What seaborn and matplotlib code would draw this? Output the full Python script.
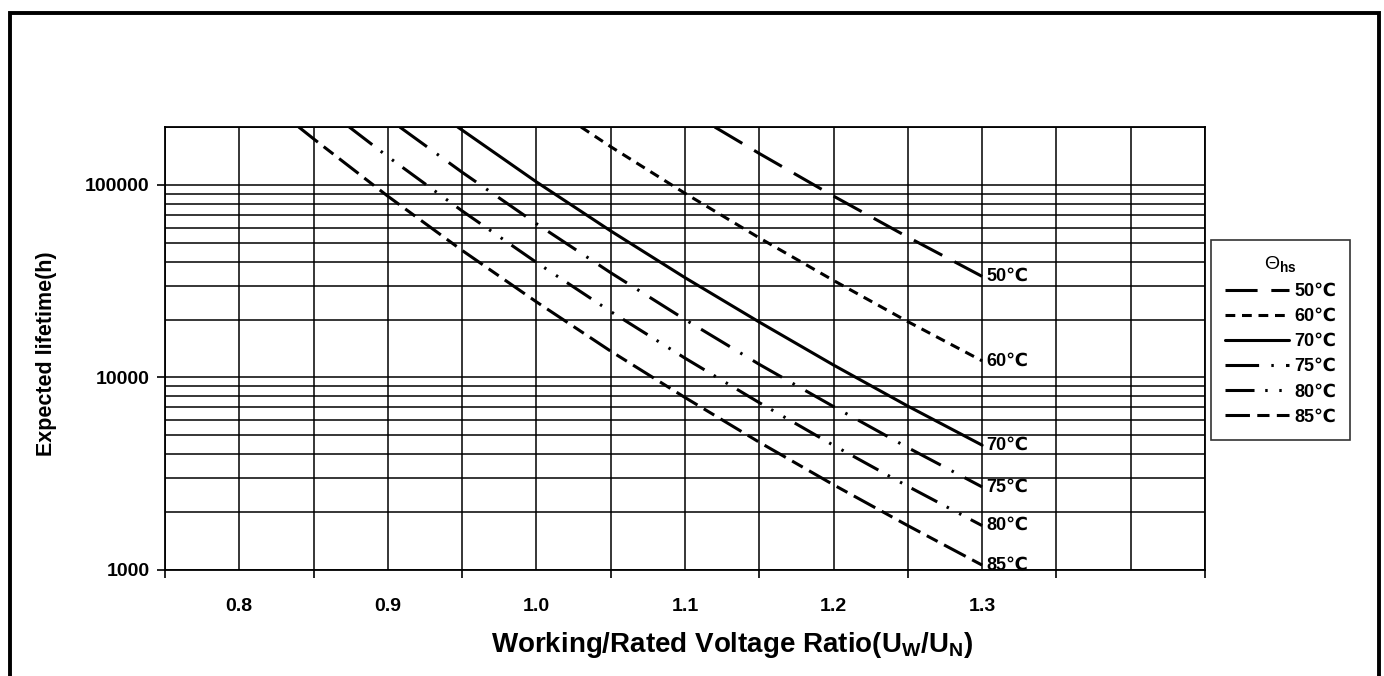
import pandas as pd
import matplotlib
matplotlib.use('Agg')
import matplotlib.pyplot as plt
from matplotlib.lines import Line2D
from matplotlib.patches import Rectangle
import seaborn as sns

# values (voltage ratio -> expected lifetime in hours)
temps = ['50℃', '60℃', '70℃', '75℃', '80℃', '85℃']

r50 = [1.12, 1.15, 1.20, 1.25, 1.30]
life50 = [200000, 145700, 87500, 53600, 33500]

r60 = [1.03, 1.05, 1.10, 1.15, 1.20, 1.25, 1.30]
life60 = [200000, 158000, 90500, 53100, 31900, 19500, 12200]

r70 = [0.947, 1.00, 1.05, 1.10, 1.15, 1.20, 1.25, 1.30]
life70 = [200000, 103700, 57700, 33000, 19400, 11600, 7100, 4450]

r75 = [0.908, 0.95, 1.00, 1.05, 1.10, 1.15, 1.20, 1.25, 1.30]
life75 = [200000, 116400, 62900, 35000, 20000, 11700, 7060, 4320, 2700]

r80 = [0.874, 0.90, 0.95, 1.00, 1.05, 1.10, 1.15, 1.20, 1.25, 1.30]
life80 = [200000, 140300, 73300, 39600, 22000, 12600, 7400, 4440, 2720, 1700]

r85 = [0.84, 0.85, 0.90, 0.95, 1.00, 1.05, 1.10, 1.15, 1.20, 1.25, 1.30]
life85 = [200000, 173600, 87400, 45700, 24700, 13700, 7870, 4610, 2770, 1700, 1060]

x_labels = ['0.8', '0.9', '1.0', '1.1', '1.2', '1.3']

# build one long frame for seaborn
rows = []
for t, xs, ys in zip(temps, [r50, r60, r70, r75, r80, r85],
                     [life50, life60, life70, life75, life80, life85]):
    for x, y in zip(xs, ys):
        rows.append({'ratio': x, 'life': y, 'temp': t})
df = pd.DataFrame(rows)

dash_map = {
    '50℃': (10.5, 4.5),
    '60℃': (3.2, 2.2),
    '70℃': '',
    '75℃': (11.0, 4.0, 0.8, 4.0),
    '80℃': (9.5, 3.5, 0.8, 3.8, 0.8, 3.5),
    '85℃': (8.0, 2.4, 4.0, 2.4),
}

sns.set_theme(style='white')
plt.rcParams['font.family'] = ['Liberation Sans', 'DejaVu Sans']
plt.rcParams['mathtext.fontset'] = 'custom'
plt.rcParams['mathtext.rm'] = 'Liberation Sans'
plt.rcParams['mathtext.bf'] = 'Liberation Sans:bold'
plt.rcParams['text.color'] = 'black'
plt.rcParams['xtick.color'] = 'black'
plt.rcParams['ytick.color'] = 'black'
plt.rcParams['xtick.labelcolor'] = 'black'
plt.rcParams['ytick.labelcolor'] = 'black'

fig = plt.figure(figsize=(13.84, 6.76), dpi=100)
ax = fig.add_axes([165 / 1384, 1 - 570 / 676, 1040 / 1384, 443 / 676])

sns.lineplot(data=df, x='ratio', y='life', style='temp', dashes=dash_map,
             color='black', linewidth=2.2, estimator=None, sort=False,
             legend=False, ax=ax, zorder=3)

ax.set_yscale('log')
ax.set_xlim(0.75, 1.45)
ax.set_ylim(1000, 200000)

# x axis: tick marks between labels, labels without marks
ax.set_xticks([0.75, 0.85, 0.95, 1.05, 1.15, 1.25, 1.35, 1.45])
ax.set_xticklabels([])
ax.set_xticks([0.8, 0.9, 1.0, 1.1, 1.2, 1.3, 1.4], minor=True)
ax.set_xticklabels(x_labels + [''], minor=True)
ax.tick_params(axis='x', which='major', direction='out', length=6, width=1.2,
               bottom=True)
ax.tick_params(axis='x', which='minor', length=0, pad=20, labelsize=14)
for lab in ax.get_xticklabels(minor=True):
    lab.set_fontweight('bold')

# y axis
ax.set_yticks([1000, 10000, 100000])
ax.set_yticklabels(['1000', '10000', '100000'])
ax.set_yticks([k * 10 ** e for e in (3, 4) for k in range(2, 10)] + [200000], minor=True)
ax.set_yticklabels([], minor=True)
ax.tick_params(axis='y', which='major', direction='out', length=6, width=1.2,
               left=True, pad=5, labelsize=14)
ax.tick_params(axis='y', which='minor', length=0)
for lab in ax.get_yticklabels():
    lab.set_fontweight('bold')

ax.grid(True, which='both', color='black', linewidth=1.1)
ax.set_axisbelow(True)
for s in ax.spines.values():
    s.set_color('black')
    s.set_linewidth(1.3)
ax.set_xlabel('')
ax.set_ylabel('')

# end labels
ends = [life50[-1], life60[-1], life70[-1], life75[-1], life80[-1], life85[-1]]
for t, y in zip(temps, ends):
    ax.annotate(t, (1.3, y), xytext=(3, 0), textcoords='offset points',
                va='center', ha='left', fontsize=13, fontweight='bold',
                annotation_clip=False, zorder=5)

fig.text(732 / 1384, 1 - 652 / 676,
         r'Working/Rated Voltage Ratio(U$_\mathbf{W}$/U$_\mathbf{N}$)',
         ha='center', va='baseline', fontsize=20, fontweight='bold')
fig.text(47 / 1384, 1 - 354 / 676, 'Expected lifetime(h)', rotation=90,
         ha='center', va='center', fontsize=15.5, fontweight='bold')

handles = [Line2D([], [], color='black', linewidth=2.2,
                  linestyle='-' if dash_map[t] == '' else (0, dash_map[t]))
           for t in temps]
leg = fig.legend(handles, temps, loc='upper left',
                 bbox_to_anchor=(1211 / 1384, 1 - 240 / 676),
                 borderaxespad=0, frameon=True, fancybox=False,
                 edgecolor='black', title=r'$\Theta_{\mathbf{hs}}$',
                 fontsize=13, title_fontsize=14, handlelength=3.5,
                 handletextpad=0.3, labelspacing=0.45, borderpad=0.8)
leg.get_frame().set_linewidth(1.2)
for txt in leg.get_texts():
    txt.set_fontweight('bold')

# outer frame of the picture
fig.patches.append(Rectangle((9.5 / 1384, -0.05), 1369 / 1384, 1.05 - 13 / 676,
                             transform=fig.transFigure, fill=False,
                             edgecolor='black', linewidth=2.8))

fig.savefig('out.png', dpi=100)
